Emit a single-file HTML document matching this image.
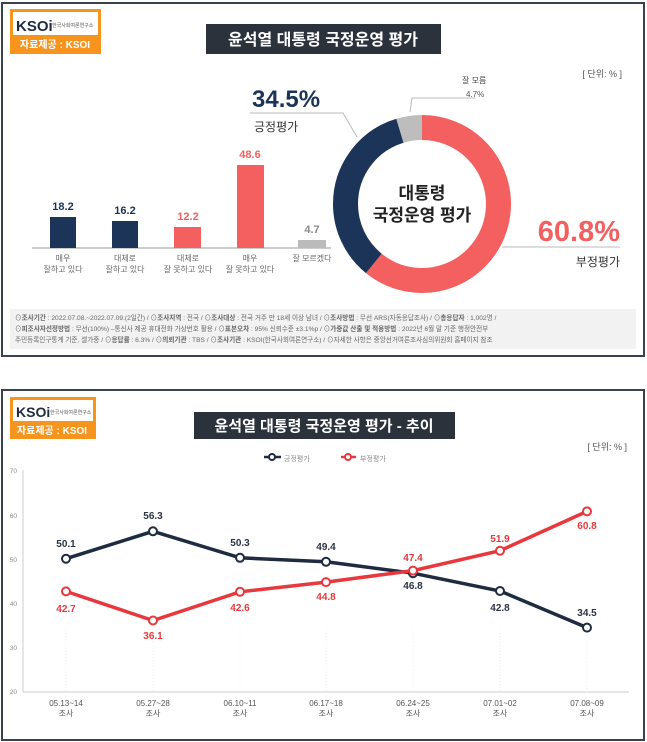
<!DOCTYPE html>
<html><head><meta charset="utf-8"><style>
html,body{margin:0;padding:0;background:#fff;}
svg{display:block;font-family:"Liberation Sans","Noto Sans CJK KR",sans-serif;}
</style></head><body>
<svg width="647" height="742" viewBox="0 0 647 742" xmlns="http://www.w3.org/2000/svg">
<!-- TOP PANEL -->
<rect x="2" y="3" width="642" height="353" fill="#fff" stroke="#3a4250" stroke-width="2"/>
<rect x="10" y="9" width="91" height="45" fill="#f7941d"/>
<rect x="13" y="12" width="85" height="23" fill="#fff"/>
<text x="16" y="31" font-size="15" font-weight="bold" fill="#1e2b40">KSOi</text>
<text x="52" y="27" font-size="5" fill="#555">한국사회여론연구소</text>
<text x="55" y="48" font-size="10" font-weight="bold" fill="#fff" text-anchor="middle">자료제공 : KSOI</text>
<rect x="206" y="24" width="235" height="30" fill="#2b323c"/>
<text x="323" y="45" font-size="16" font-weight="bold" fill="#fff" text-anchor="middle">윤석열 대통령 국정운영 평가</text>
<text x="622" y="77" font-size="9" fill="#555" text-anchor="end">[ 단위: % ]</text>
<!-- bars -->
<line x1="32" y1="248" x2="331" y2="248" stroke="#999" stroke-width="1"/>
<rect x="50" y="217" width="26" height="31" fill="#1c3458"/>
<rect x="112" y="221" width="26" height="27" fill="#1c3458"/>
<rect x="174" y="227" width="27" height="21" fill="#f45f5f"/>
<rect x="237" y="165" width="27" height="83" fill="#f45f5f"/>
<rect x="298" y="240" width="28" height="8" fill="#bbb"/>
<g font-size="11" font-weight="bold" text-anchor="middle">
<text x="63" y="210" fill="#1c3458">18.2</text>
<text x="125" y="214" fill="#1c3458">16.2</text>
<text x="188" y="220" fill="#f45f5f">12.2</text>
<text x="250" y="158" fill="#f45f5f">48.6</text>
<text x="312" y="233" fill="#888">4.7</text>
</g>
<g font-size="8" fill="#666" text-anchor="middle">
<text x="63" y="261">매우</text><text x="63" y="272">잘하고 있다</text>
<text x="125" y="261">대체로</text><text x="125" y="272">잘하고 있다</text>
<text x="188" y="261">대체로</text><text x="188" y="272">잘 못하고 있다</text>
<text x="250" y="261">매우</text><text x="250" y="272">잘 못하고 있다</text>
<text x="312" y="261">잘 모르겠다</text>
</g>
<!-- donut -->
<g transform="rotate(-90 422 204)" fill="none" stroke-width="25">
<circle cx="422" cy="204" r="76.5" stroke="#f45f5f" stroke-dasharray="292.3 480.7"/>
<circle cx="422" cy="204" r="76.5" stroke="#1c3458" stroke-dasharray="0 292.3 165.8 480.7"/>
<circle cx="422" cy="204" r="76.5" stroke="#bdbdbd" stroke-dasharray="0 458.1 22.6 480.7"/>
</g>
<text x="422" y="199" font-size="17" font-weight="bold" fill="#222" text-anchor="middle">대통령</text>
<text x="422" y="221" font-size="17" font-weight="bold" fill="#222" text-anchor="middle">국정운영 평가</text>
<polyline points="250,113 343,113 357,137" fill="none" stroke="#bbb" stroke-width="1"/>
<text x="252" y="107" font-size="24" font-weight="bold" fill="#1c3458">34.5%</text>
<text x="254" y="131" font-size="12" fill="#333">긍정평가</text>
<polyline points="410,112 412,98 475,98" fill="none" stroke="#bbb" stroke-width="1"/>
<text x="462" y="83" font-size="8" fill="#444">잘 모름</text>
<text x="466" y="97" font-size="8" fill="#555">4.7%</text>
<line x1="502" y1="247" x2="620" y2="247" stroke="#bbb" stroke-width="1"/>
<text x="620" y="241" font-size="29" font-weight="bold" fill="#f45f5f" text-anchor="end">60.8%</text>
<text x="620" y="266" font-size="12" fill="#333" text-anchor="end">부정평가</text>
<!-- footer -->
<rect x="10" y="309" width="626" height="40" fill="#f2f2f2"/>
<g font-size="6.6" fill="#666">
<text x="15" y="320">⊙<tspan font-weight="bold">조사기간</tspan> : 2022.07.08.~2022.07.09.(2일간) / ⊙<tspan font-weight="bold">조사지역</tspan> : 전국 / ⊙<tspan font-weight="bold">조사대상</tspan> : 전국 거주 만 18세 이상 남녀 / ⊙<tspan font-weight="bold">조사방법</tspan> : 무선 ARS(자동응답조사) / ⊙<tspan font-weight="bold">총응답자</tspan> : 1,002명 /</text>
<text x="15" y="331">⊙<tspan font-weight="bold">피조사자선정방법</tspan> : 무선(100%) –통신사 제공 휴대전화 가상번호 활용 / ⊙<tspan font-weight="bold">표본오차</tspan> : 95% 신뢰수준 ±3.1%p / ⊙<tspan font-weight="bold">가중값 산출 및 적용방법</tspan> : 2022년 6월 말 기준 행정안전부</text>
<text x="15" y="342">주민등록인구통계 기준, 셀가중 / ⊙<tspan font-weight="bold">응답률</tspan> : 6.3% / ⊙<tspan font-weight="bold">의뢰기관</tspan> : TBS / ⊙<tspan font-weight="bold">조사기관</tspan> : KSOI(한국사회여론연구소) / ⊙자세한 사항은 중앙선거여론조사심의위원회 홈페이지 참조</text>
</g>

<!-- BOTTOM PANEL -->
<rect x="2" y="390" width="642" height="350" fill="#fff" stroke="#3a4250" stroke-width="2"/>
<rect x="10" y="397" width="86" height="42" fill="#f7941d"/>
<rect x="13" y="400" width="80" height="21" fill="#fff"/>
<text x="16" y="417" font-size="14" font-weight="bold" fill="#1e2b40">KSOi</text>
<text x="50" y="414" font-size="5" fill="#555">한국사회여론연구소</text>
<text x="52" y="434" font-size="10" font-weight="bold" fill="#fff" text-anchor="middle">자료제공 : KSOI</text>
<rect x="194" y="412" width="261" height="27" fill="#2b323c"/>
<text x="324" y="431" font-size="15" font-weight="bold" fill="#fff" text-anchor="middle">윤석열 대통령 국정운영 평가 - 추이</text>
<text x="627" y="450" font-size="9" fill="#555" text-anchor="end">[ 단위: % ]</text>
<!-- legend -->
<line x1="264" y1="457" x2="281" y2="457" stroke="#1e2b40" stroke-width="2.5"/>
<circle cx="272" cy="457" r="3" fill="#fff" stroke="#1e2b40" stroke-width="2"/>
<text x="284" y="461" font-size="7" fill="#888">긍정평가</text>
<line x1="341" y1="457" x2="356" y2="457" stroke="#e8383d" stroke-width="2.5"/>
<circle cx="348" cy="457" r="3" fill="#fff" stroke="#e8383d" stroke-width="2"/>
<text x="360" y="461" font-size="7" fill="#888">부정평가</text>
<!-- axes -->
<line x1="23" y1="470" x2="23" y2="692" stroke="#ccc"/>
<line x1="23" y1="692" x2="629" y2="692" stroke="#ccc"/>
<g font-size="6.5" fill="#888" text-anchor="end">
<text x="17" y="473">70</text><text x="17" y="518">60</text><text x="17" y="562">50</text>
<text x="17" y="606">40</text><text x="17" y="650">30</text><text x="17" y="694">20</text>
</g>
<g stroke="#eee" stroke-dasharray="1 2">
<line x1="66" y1="630" x2="66" y2="692"/><line x1="153" y1="630" x2="153" y2="692"/>
<line x1="240" y1="630" x2="240" y2="692"/><line x1="326" y1="630" x2="326" y2="692"/>
<line x1="413" y1="630" x2="413" y2="692"/><line x1="500" y1="630" x2="500" y2="692"/>
<line x1="587" y1="640" x2="587" y2="692"/>
</g>
<g font-size="8" fill="#555" text-anchor="middle">
<text x="66" y="706">05.13~14</text><text x="66" y="716">조사</text>
<text x="153" y="706">05.27~28</text><text x="153" y="716">조사</text>
<text x="240" y="706">06.10~11</text><text x="240" y="716">조사</text>
<text x="326" y="706">06.17~18</text><text x="326" y="716">조사</text>
<text x="413" y="706">06.24~25</text><text x="413" y="716">조사</text>
<text x="500" y="706">07.01~02</text><text x="500" y="716">조사</text>
<text x="587" y="706">07.08~09</text><text x="587" y="716">조사</text>
</g>
<polyline points="66,558.7 153,531.3 240,557.8 326,561.8 413,573.2 500,591 587,627.6" fill="none" stroke="#1e2b40" stroke-width="3.5"/>
<polyline points="66,591.4 153,620.5 240,591.8 326,582.1 413,570.6 500,550.7 587,511.4" fill="none" stroke="#e8383d" stroke-width="3.5"/>
<g fill="#fff" stroke="#1e2b40" stroke-width="2">
<circle cx="66" cy="558.7" r="4"/><circle cx="153" cy="531.3" r="4"/><circle cx="240" cy="557.8" r="4"/>
<circle cx="326" cy="561.8" r="4"/><circle cx="413" cy="573.2" r="4"/><circle cx="500" cy="591" r="4"/><circle cx="587" cy="627.6" r="4"/>
</g>
<g fill="#fff" stroke="#e8383d" stroke-width="2">
<circle cx="66" cy="591.4" r="4"/><circle cx="153" cy="620.5" r="4"/><circle cx="240" cy="591.8" r="4"/>
<circle cx="326" cy="582.1" r="4"/><circle cx="413" cy="570.6" r="4"/><circle cx="500" cy="550.7" r="4"/><circle cx="587" cy="511.4" r="4"/>
</g>
<g font-size="10" font-weight="bold" text-anchor="middle" fill="#2b3445">
<text x="66" y="547">50.1</text><text x="153" y="519">56.3</text><text x="240" y="546">50.3</text>
<text x="326" y="550">49.4</text><text x="413" y="589">46.8</text><text x="500" y="611">42.8</text><text x="587" y="616">34.5</text>
</g>
<g font-size="10" font-weight="bold" text-anchor="middle" fill="#e8383d">
<text x="66" y="612">42.7</text><text x="153" y="639">36.1</text><text x="240" y="611">42.6</text>
<text x="326" y="600">44.8</text><text x="413" y="561">47.4</text><text x="500" y="542">51.9</text><text x="587" y="529">60.8</text>
</g>
</svg>
</body></html>
